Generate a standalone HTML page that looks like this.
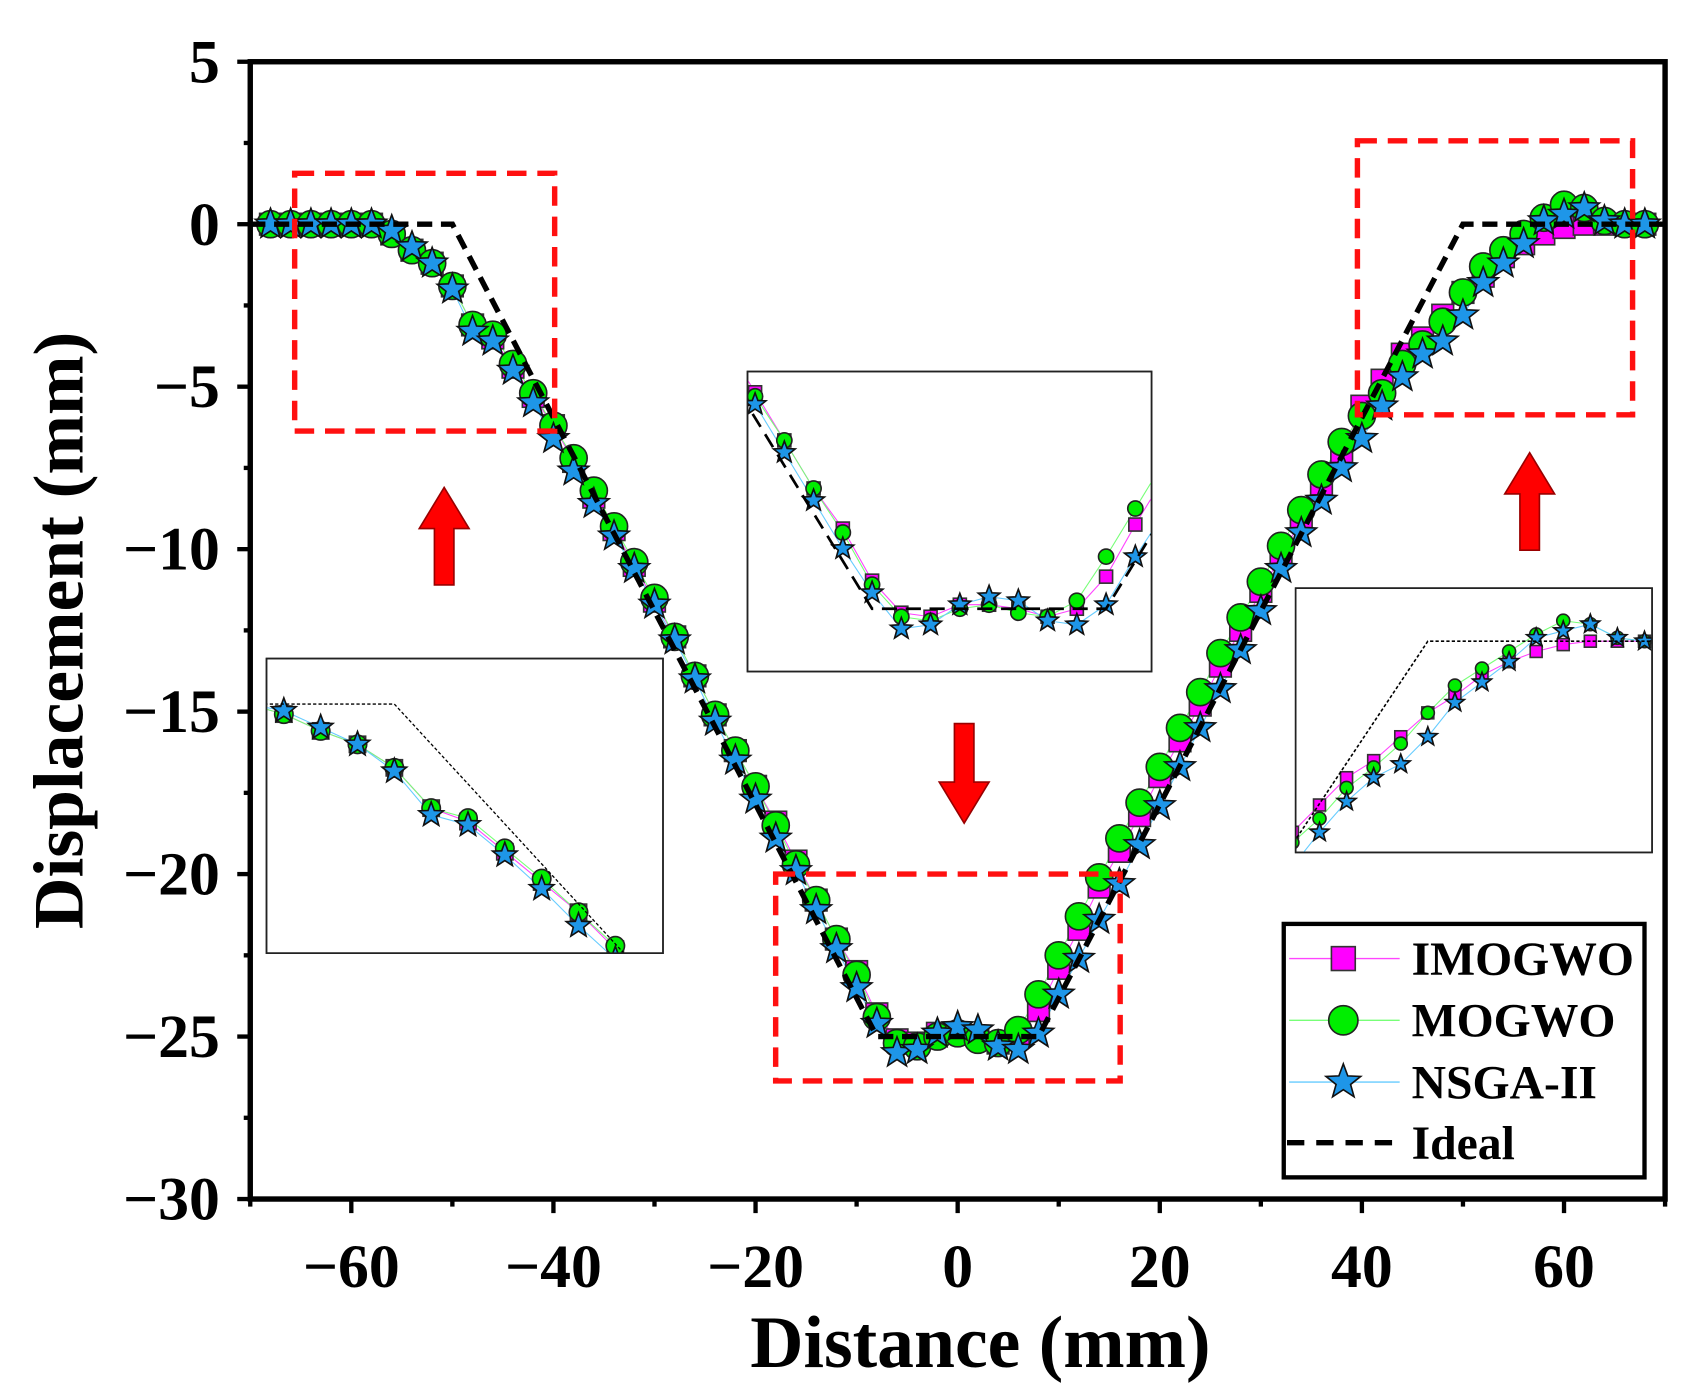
<!DOCTYPE html>
<html><head><meta charset="utf-8"><style>
html,body{margin:0;padding:0;background:#fff;overflow:hidden;width:1690px;height:1394px;}
svg{display:block;}
text{font-family:"Liberation Serif",serif;font-weight:bold;fill:#000;}
</style></head><body>
<svg id="chart" width="1690" height="1394" viewBox="0 0 1560 1287" preserveAspectRatio="none" xmlns="http://www.w3.org/2000/svg">
<defs>
<clipPath id="clipL"><rect x="246" y="608" width="366" height="272"/></clipPath>
<clipPath id="clipM"><rect x="690" y="343" width="373" height="277"/></clipPath>
<clipPath id="clipR"><rect x="1196" y="543" width="329" height="244"/></clipPath>
<clipPath id="clipMain"><rect x="231" y="57" width="1306" height="1050"/></clipPath>
</defs>
</svg>
<script>
const xs = [-68,-66,-64,-62,-60,-58,-56,-54,-52,-50,-48,-46,-44,-42,-40,-38,-36,-34,-32,-30,-28,-26,-24,-22,-20,-18,-16,-14,-12,-10,-8,-6,-4,-2,0,2,4,6,8,10,12,14,16,18,20,22,24,26,28,30,32,34,36,38,40,42,44,46,48,50,52,54,56,58,60,62,64,66,68];
const imogwo = [0,0,0,0,0,0,-0.3,-0.8,-1.2,-1.9,-3.1,-3.5,-4.4,-5.3,-6.2,-7.3,-8.4,-9.4,-10.5,-11.6,-12.7,-13.9,-15.1,-16.2,-17.3,-18.4,-19.6,-20.8,-22.0,-23.0,-24.3,-25.1,-25.2,-24.9,-24.9,-25.0,-25.2,-25.0,-24.2,-22.9,-21.7,-20.4,-19.3,-18.2,-17.0,-15.9,-14.8,-13.6,-12.5,-11.3,-10.2,-9.1,-8.0,-7.0,-5.6,-4.8,-4.0,-3.5,-2.8,-2.1,-1.6,-1.0,-0.6,-0.3,-0.1,0,0,0,0];
const mogwo = [0,0,0,0,0,0,-0.3,-0.8,-1.2,-1.9,-3.1,-3.4,-4.3,-5.2,-6.2,-7.2,-8.2,-9.3,-10.4,-11.5,-12.7,-13.9,-15.1,-16.2,-17.3,-18.5,-19.7,-20.8,-22.0,-23.1,-24.4,-25.2,-25.3,-25.0,-24.9,-25.1,-25.2,-24.8,-23.7,-22.5,-21.3,-20.1,-18.9,-17.8,-16.7,-15.5,-14.4,-13.2,-12.1,-11.0,-9.9,-8.8,-7.7,-6.7,-5.9,-5.2,-4.3,-3.7,-3.0,-2.1,-1.3,-0.8,-0.3,0.2,0.6,0.5,0.1,0,0];
const nsga = [0,0,0,0,0,0,-0.2,-0.7,-1.2,-2.0,-3.3,-3.6,-4.5,-5.5,-6.6,-7.6,-8.6,-9.6,-10.6,-11.7,-12.8,-14.0,-15.3,-16.5,-17.7,-18.9,-19.9,-21.1,-22.3,-23.5,-24.6,-25.5,-25.4,-24.9,-24.7,-24.8,-25.3,-25.4,-24.9,-23.7,-22.6,-21.4,-20.3,-19.1,-17.9,-16.7,-15.5,-14.3,-13.1,-11.9,-10.6,-9.5,-8.5,-7.5,-6.6,-5.6,-4.7,-4.0,-3.6,-2.8,-1.8,-1.2,-0.6,0.1,0.3,0.5,0.1,0,0];
const idealX = [-70,-50,-8,8,50,70];
const idealY = [0,0,-25,-25,0,0];
const xTicks = [-60,-40,-20,0,20,40,60];
const yTicks = [5,0,-5,-10,-15,-20,-25,-30];

const NS='http://www.w3.org/2000/svg';
const svg=document.getElementById('chart');
function el(tag,attrs,parent){const e=document.createElementNS(NS,tag);for(const k in attrs)e.setAttribute(k,attrs[k]);(parent||svg).appendChild(e);return e;}
const X0=231,X1=1537,Y0=57,Y1=1107;
const sx=x=>X0+(x+70)/140*(X1-X0);
const sy=y=>Y0+(5-y)/35*(Y1-Y0);

function starPath(cx,cy,R){const r=R*0.42;let d='';for(let i=0;i<10;i++){const a=-Math.PI/2+i*Math.PI/5;const rr=i%2?r:R;d+=(i?'L':'M')+(cx+rr*Math.cos(a)).toFixed(1)+' '+(cy+rr*Math.sin(a)).toFixed(1);}return d+'Z';}
function marker(g,type,cx,cy,s){
  let m;
  if(type==='sq'){m=el('rect',{x:cx-s/2,y:cy-s/2,width:s,height:s,fill:'#ff00ff',stroke:'#333','stroke-width':1.5},g);}
  else if(type==='ci'){m=el('circle',{cx:cx,cy:cy,r:s/2,fill:'#00ee00',stroke:'#222','stroke-width':1.5},g);}
  else {m=el('path',{d:starPath(cx,cy,s*0.7),fill:'#1e96e8',stroke:'#111','stroke-width':1.5},g);}
  return m;
}
const seriesList=[{name:'imogwo',vals:imogwo,type:'sq',col:'#ff44ff'},{name:'mogwo',vals:mogwo,type:'ci',col:'#77ff77'},{name:'nsga-ii',vals:nsga,type:'st',col:'#66ccff'}];

function drawSet(fx,fy,clip,sizes,prefix,lw){
  const g=el('g',{'clip-path':'url(#'+clip+')'});
  
  
  seriesList.forEach((s,si)=>{
    const pts=xs.map((x,i)=>fx(x).toFixed(1)+','+fy(s.vals[i]).toFixed(1)).join(' ');
    const pl=el('polyline',{points:pts,fill:'none',stroke:s.col,'stroke-width':1},g);
    
    
  });
  seriesList.forEach((s,si)=>{
    xs.forEach((x,i)=>{
      const m=marker(g,s.type,fx(x),fy(s.vals[i]),sizes[si]);
      
      
    });
  });
  const ip=idealX.map((x,i)=>fx(x).toFixed(1)+','+fy(idealY[i]).toFixed(1)).join(' ');
  const il=el('polyline',{points:ip,fill:'none',stroke:'#000','stroke-width':lw,'stroke-dasharray':lw>2?'14 8':'3 2'},g);
  
  
}

drawSet(sx,sy,'clipMain',[20,25,21],'main',5);

const frame=el('rect',{x:X0,y:Y0,width:X1-X0,height:Y1-Y0,fill:'none',stroke:'#000','stroke-width':5});


for(let v=-70;v<=70;v+=10){
  const major=v%20===0;
  const t=el('line',{x1:sx(v),x2:sx(v),y1:Y1,y2:Y1+(major?13:7),stroke:'#000','stroke-width':4});
  
  
}
xTicks.forEach(v=>{
  const t=el('text',{x:sx(v),y:1188,'font-size':57,'text-anchor':'middle'});
  t.textContent=(v<0?'\u2212':'')+Math.abs(v);
  
  
});
for(let v=-30;v<=5;v+=2.5){
  const major=v%5===0;
  const t=el('line',{x1:X0,x2:X0-(major?12:6),y1:sy(v),y2:sy(v),stroke:'#000','stroke-width':4});
  
  
}
yTicks.forEach(v=>{
  const t=el('text',{x:203,y:sy(v)+19,'font-size':57,'text-anchor':'end'});
  t.textContent=(v<0?'\u2212':'')+Math.abs(v);
  
  
});
const xt=el('text',{x:905,y:1262,'font-size':68,'text-anchor':'middle'});
xt.textContent='Distance (mm)';


const yt=el('text',{x:0,y:0,'font-size':66,'text-anchor':'middle',transform:'translate(76,582) rotate(-90)'});
yt.textContent='Displacement (mm)';



[[272,160,512,398,'left'],[716,807,1034,998,'center'],[1253,130,1507,383,'right']].forEach(b=>{
  const r=el('rect',{x:b[0],y:b[1],width:b[2]-b[0],height:b[3]-b[1],fill:'none',stroke:'#ff1010','stroke-width':5,'stroke-dasharray':'18 10'});
  
  
});
function arrow(x,yTail,yHead,name){
  const dir=yHead<yTail?-1:1;const hh=38;const yb=yHead-dir*hh;
  const d=`M${x-9} ${yTail} L${x+9} ${yTail} L${x+9} ${yb} L${x+23} ${yb} L${x} ${yHead} L${x-23} ${yb} L${x-9} ${yb} Z`;
  const a=el('path',{d:d,fill:'#ff0000',stroke:'#900','stroke-width':1.5});
  
  
}
arrow(410,540,450,'arrow-left');
arrow(1412,508,418,'arrow-right');
arrow(890,668,760,'arrow-center');

function insetBox(x,y,w,h,name){
  const r=el('rect',{x:x,y:y,width:w,height:h,fill:'#fff',stroke:'#222','stroke-width':1.5});
  
  
}
insetBox(246,608,366,272,'inset-left');
drawSet(x=>262+(x+56)*17,y=>650-y*31,'clipL',[15,17,17],'inset-left',1.2);
insetBox(690,343,373,277,'inset-center');
drawSet(x=>805+(x+8)*13.5,y=>562-(y+25)*37,'clipM',[12,14,15],'inset-center',2.5);
insetBox(1196,543,329,244,'inset-right');
drawSet(x=>1318+(x-50)*12.5,y=>592-y*31.5,'clipR',[11,12,13],'inset-right',1.5);
[[246,608,366,272],[690,343,373,277],[1196,543,329,244]].forEach(b=>{
  const r=el('rect',{x:b[0],y:b[1],width:b[2],height:b[3],fill:'none',stroke:'#222','stroke-width':1.5});
  
  
});

const lg=el('g',{});


const lb=el('rect',{x:1185,y:853,width:333,height:234,fill:'#fff',stroke:'#000','stroke-width':4},lg);


const legY=[885,942,999];
seriesList.forEach((s,i)=>{
  const ln=el('line',{x1:1190,x2:1292,y1:legY[i],y2:legY[i],stroke:s.col,'stroke-width':1.2},lg);
  
  
  const m=marker(lg,s.type,1240,legY[i],[22,27,24][i]);
  
  
});
const idl=el('line',{x1:1188,x2:1285,y1:1055,y2:1055,stroke:'#000','stroke-width':5,'stroke-dasharray':'16 11'},lg);


['IMOGWO','MOGWO','NSGA-II','Ideal'].forEach((t,i)=>{
  const tx=el('text',{x:1303,y:[885,942,999,1055][i]+15,'font-size':44},lg);
  tx.textContent=t;
  
  
});
</script>
</body></html>
